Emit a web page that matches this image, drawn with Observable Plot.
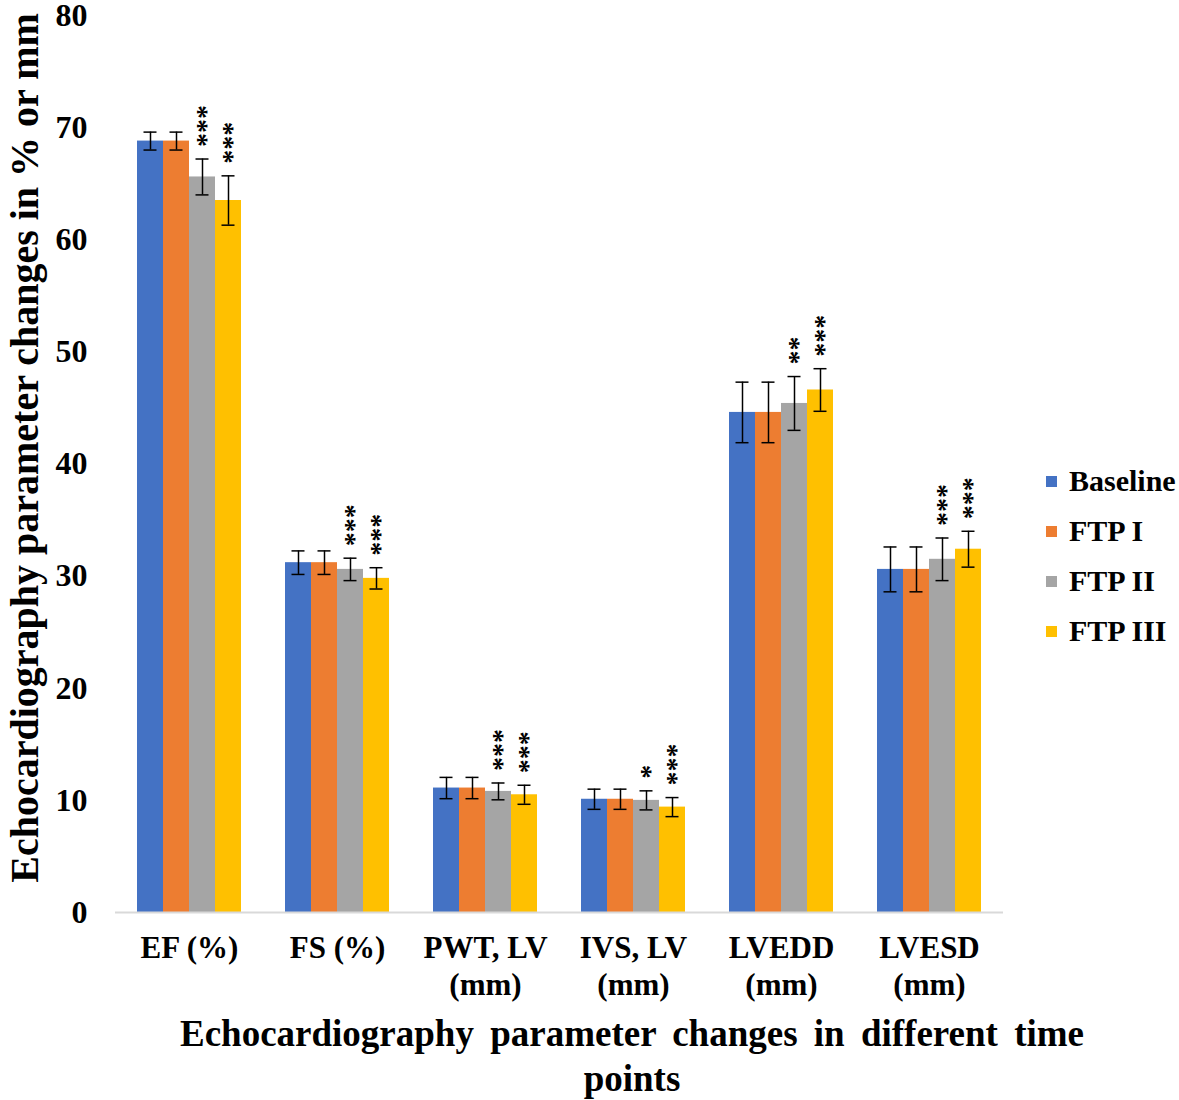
<!DOCTYPE html>
<html><head><meta charset="utf-8">
<script src="https://cdn.jsdelivr.net/npm/d3@7"></script>
<script src="https://cdn.jsdelivr.net/npm/@observablehq/plot@0.6"></script>
<style>
body{margin:0;background:#fff;font-family:"Liberation Serif","Times New Roman",serif;font-weight:bold;color:#000;}
#wrap{position:relative;width:1179px;height:1100px;overflow:hidden;}
#chart{position:absolute;left:0;top:0;}
#ytitle{position:absolute;left:25px;top:448px;transform:translate(-50%,-50%) rotate(-90deg);white-space:nowrap;font-size:40px;line-height:44px;}
#xtitle{position:absolute;left:632px;top:1011px;transform:translateX(-50%);text-align:center;font-size:37px;line-height:45px;width:1000px;word-spacing:7px;}
#legend{position:absolute;left:1046px;top:456px;}
.item{display:flex;align-items:center;height:50px;font-size:30px;}
.sw{width:11px;height:11px;margin-right:12px;}
</style></head><body>
<div id="wrap">
<div id="chart"></div>
<div id="ytitle">Echocardiography parameter changes in % or mm</div>
<div id="xtitle">Echocardiography parameter changes in different time<br>points</div>
<div id="legend"></div>
</div>
<script>
const parameters = ["EF (%)", "FS (%)", "PWT, LV\n(mm)", "IVS, LV\n(mm)", "LVEDD\n(mm)", "LVESD\n(mm)"];
const series = ["Baseline", "FTP I", "FTP II", "FTP III"];
const colors = ["#4472C4", "#ED7D31", "#A5A5A5", "#FFC000"];

const baseline = [68.8, 31.2, 11.1, 10.1, 44.6, 30.6];
const ftp1     = [68.8, 31.2, 11.1, 10.1, 44.6, 30.6];
const ftp2     = [65.6, 30.6, 10.8, 10.0, 45.4, 31.5];
const ftp3     = [63.5, 29.8, 10.5, 9.4, 46.6, 32.4];

const baselineErr = [0.8, 1.05, 0.95, 0.9, 2.7, 2.0];
const ftp1Err     = [0.8, 1.05, 0.95, 0.9, 2.7, 2.0];
const ftp2Err     = [1.6, 1.0, 0.75, 0.85, 2.4, 1.9];
const ftp3Err     = [2.2, 0.95, 0.85, 0.85, 1.9, 1.6];

const baselineSig = ["", "", "", "", "", ""];
const ftp1Sig     = ["", "", "", "", "", ""];
const ftp2Sig     = ["***", "***", "***", "*", "**", "***"];
const ftp3Sig     = ["***", "***", "***", "***", "***", "***"];

const yTicks = [0, 10, 20, 30, 40, 50, 60, 70, 80];

const values = [baseline, ftp1, ftp2, ftp3];
const errs = [baselineErr, ftp1Err, ftp2Err, ftp3Err];
const sigs = [baselineSig, ftp1Sig, ftp2Sig, ftp3Sig];

const data = [];
parameters.forEach((p, i) => {
  series.forEach((s, j) => {
    const v = values[j][i], e = errs[j][i];
    data.push({param: p, series: s, value: v, lo: v - e, hi: v + e, sig: sigs[j][i]});
  });
});

const chart = Plot.plot({
  width: 1010,
  height: 1010,
  marginLeft: 113,
  marginRight: 6,
  marginTop: 15,
  marginBottom: 98,
  style: {fontFamily: "'Liberation Serif', 'Times New Roman', serif", fontWeight: "bold", fontSize: "30px", color: "#000", background: "#fff", overflow: "visible"},
  fx: {domain: parameters, paddingInner: 0, paddingOuter: 0, label: null},
  x: {domain: series, paddingInner: 0, paddingOuter: 0.75, axis: null},
  y: {domain: [0, 80], ticks: yTicks, label: null},
  color: {domain: series, range: colors},
  marks: [
    Plot.barY(data, {fx: "param", x: "series", y: "value", fill: "series"}),
    Plot.ruleX(data, {fx: "param", x: "series", y1: "lo", y2: "hi", stroke: "#000", strokeWidth: 1.5}),
    Plot.tickY(data, {fx: "param", x: "series", y: "lo", stroke: "#000", strokeWidth: 1.5, insetLeft: 6.5, insetRight: 6.5}),
    Plot.tickY(data, {fx: "param", x: "series", y: "hi", stroke: "#000", strokeWidth: 1.5, insetLeft: 6.5, insetRight: 6.5}),
    Plot.text(data, {fx: "param", x: "series", y: "hi", text: "sig", rotate: -90, textAnchor: "start", lineAnchor: "middle", dy: -12, dx: 4, fontSize: 28, fill: "#000"}),
    Plot.ruleY([0], {stroke: "#d9d9d9", strokeWidth: 2}),
    Plot.axisY({ticks: yTicks, tickSize: 0, tickPadding: 28, label: null, fontSize: 32, fontWeight: "bold"}),
    Plot.axisFx({anchor: "bottom", tickSize: 0, tickPadding: 19, label: null, lineHeight: 1.2, fontSize: 31, fontWeight: "bold"})
  ]
});
document.getElementById("chart").appendChild(chart);

const legend = document.getElementById("legend");
series.forEach((s, j) => {
  const item = document.createElement("div");
  item.className = "item";
  const sw = document.createElement("span");
  sw.className = "sw";
  sw.style.background = colors[j];
  const t = document.createElement("span");
  t.textContent = s;
  item.appendChild(sw); item.appendChild(t);
  legend.appendChild(item);
});
</script>
</body></html>
